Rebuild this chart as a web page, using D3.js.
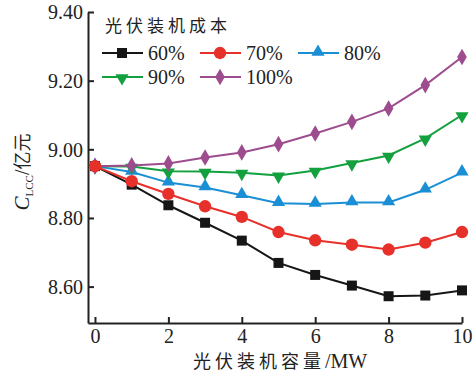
<!DOCTYPE html>
<html>
<head>
<meta charset="utf-8">
<script src="https://cdn.jsdelivr.net/npm/d3@7"></script>
<style>
  html, body { margin: 0; padding: 0; background: #ffffff; }
  svg { display: block; }
</style>
</head>
<body>
<svg id="chart" width="473" height="376"></svg>
<script>
// PV installed capacity (MW)
const capacity = [0, 1, 2, 3, 4, 5, 6, 7, 8, 9, 10];

// Life-cycle cost C_LCC (100 million yuan) for each PV installation cost level
const cost60  = [8.951, 8.897, 8.837, 8.786, 8.734, 8.669, 8.634, 8.603, 8.572, 8.574, 8.589];
const cost70  = [8.951, 8.907, 8.870, 8.834, 8.803, 8.759, 8.735, 8.722, 8.708, 8.728, 8.759];
const cost80  = [8.951, 8.934, 8.903, 8.889, 8.866, 8.843, 8.841, 8.845, 8.845, 8.882, 8.932];
const cost90  = [8.951, 8.950, 8.936, 8.935, 8.932, 8.924, 8.938, 8.960, 8.982, 9.032, 9.100];
const cost100 = [8.951, 8.953, 8.959, 8.976, 8.991, 9.015, 9.046, 9.080, 9.119, 9.187, 9.269];

const seriesNames = ["60%", "70%", "80%", "90%", "100%"];
const xTicks = [0, 2, 4, 6, 8, 10];
const yTicks = [8.60, 8.80, 9.00, 9.20, 9.40];

const legendTitle = "光伏装机成本";
const xTitle = "光伏装机容量/MW";

const series = [
  { name: seriesNames[0], values: cost60,  color: "#161616", symbol: d3.symbolSquare,   size: 100 },
  { name: seriesNames[1], values: cost70,  color: "#e8302a", symbol: d3.symbolCircle,   size: 120 },
  { name: seriesNames[2], values: cost80,  color: "#1b8fd6", symbol: d3.symbolTriangle, size: 75 },
  { name: seriesNames[3], values: cost90,  color: "#13a03e", symbol: "down",            size: 75 },
  { name: seriesNames[4], values: cost100, color: "#9d4c8e", symbol: d3.symbolDiamond,  size: 80 }
];

const svg = d3.select("#chart");
const serif = "'Liberation Serif', 'Times New Roman', serif";
const cjk = "'Noto Sans CJK SC', sans-serif";

const x = d3.scaleLinear().domain([-0.19, 10]).range([88, 462]);
const y = d3.scaleLinear().domain([8.494, 9.40]).range([323, 12]);

// Axes: ticks point inward
const xAxis = svg.append("g")
  .attr("transform", `translate(0,${y.range()[0]})`)
  .call(d3.axisBottom(x).tickValues(xTicks).tickSizeInner(-6).tickSizeOuter(0).tickPadding(6)
    .tickFormat(d3.format("d")));
const yAxis = svg.append("g")
  .attr("transform", `translate(${x.range()[0]},0)`)
  .call(d3.axisLeft(y).tickValues(yTicks).tickSizeInner(-6).tickSizeOuter(0).tickPadding(5)
    .tickFormat(d3.format(".2f")));

[xAxis, yAxis].forEach(g => {
  g.select(".domain").attr("stroke", "#222").attr("stroke-width", 2);
  g.selectAll(".tick line").attr("stroke", "#222").attr("stroke-width", 2);
  g.selectAll(".tick text").attr("fill", "#222").style("font-family", serif).style("font-size", "20px");
});
yAxis.selectAll(".tick text").attr("dy", "0.34em");

function symbolPath(s) {
  if (s.symbol === "down") {
    return d3.symbol(d3.symbolTriangle, s.size)();
  }
  return d3.symbol(s.symbol, s.size)();
}
function symbolTransform(s, px, py) {
  if (s.symbol === "down") return `translate(${px},${py + 1}) rotate(180)`;
  if (s.symbol === d3.symbolTriangle) return `translate(${px},${py - 1})`;
  return `translate(${px},${py})`;
}

const line = d3.line().x((d, i) => x(capacity[i])).y(d => y(d));

// draw order keeps the 70% series on top
const order = [0, 2, 3, 4, 1];
order.forEach(k => {
  const s = series[k];
  const g = svg.append("g");
  g.append("path").datum(s.values)
    .attr("d", line).attr("fill", "none")
    .attr("stroke", s.color).attr("stroke-width", 2);
  g.selectAll("path.mk").data(s.values).join("path").attr("class", "mk")
    .attr("d", symbolPath(s))
    .attr("transform", (d, i) => symbolTransform(s, x(capacity[i]), y(d)))
    .attr("fill", s.color);
});

// Legend
const legend = svg.append("g");
legend.append("text").attr("x", 105).attr("y", 32)
  .style("font-family", cjk).style("font-size", "17px").style("letter-spacing", "4px")
  .attr("fill", "#222").text(legendTitle);
const legendPos = [[102, 53], [200, 53], [298, 53], [102, 77], [200, 77]];
series.forEach((s, i) => {
  const [lx, ly] = legendPos[i];
  legend.append("line").attr("x1", lx).attr("x2", lx + 41).attr("y1", ly).attr("y2", ly)
    .attr("stroke", s.color).attr("stroke-width", 2);
  legend.append("path").attr("d", symbolPath(s))
    .attr("transform", symbolTransform(s, lx + 20, ly)).attr("fill", s.color);
  legend.append("text").attr("x", lx + 46).attr("y", ly).attr("dy", "0.34em")
    .style("font-family", serif).style("font-size", "20px").attr("fill", "#222").text(s.name);
});

// Axis titles
const xt = svg.append("text").attr("x", 280).attr("y", 368).attr("text-anchor", "middle")
  .attr("fill", "#222");
xt.append("tspan").style("font-family", cjk).style("font-size", "18px").style("letter-spacing", "4px").text(xTitle.slice(0, 6));
xt.append("tspan").style("font-family", serif).style("font-size", "20px").text(xTitle.slice(6));

const yt = svg.append("text").attr("transform", "translate(29,172) rotate(-90)")
  .attr("text-anchor", "middle").attr("fill", "#222");
yt.append("tspan").style("font-family", serif).style("font-size", "21px").style("font-style", "italic").text("C");
yt.append("tspan").style("font-family", serif).style("font-size", "11px").attr("dy", 4).text("LCC");
yt.append("tspan").style("font-family", serif).style("font-size", "20px").attr("dy", -4).text("/");
yt.append("tspan").style("font-family", cjk).style("font-size", "18px").text("亿元");
</script>
</body>
</html>
